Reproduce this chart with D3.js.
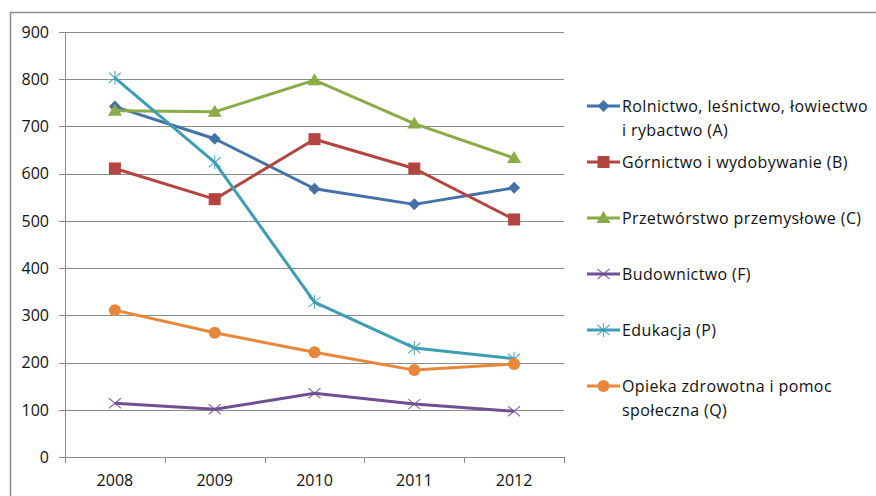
<!DOCTYPE html>
<html><head><meta charset="utf-8">
<script src="https://cdn.jsdelivr.net/npm/d3@7"></script>
<style>body{margin:0;background:#fff}svg text{font-family:"Open Sans",Lato,sans-serif;fill:#111}</style>
</head><body><svg id="c" width="876" height="496"></svg>
<script>
const years = ["2008","2009","2010","2011","2012"];
const yTicks = [0,100,200,300,400,500,600,700,800,900];
const names = ["Rolnictwo, leśnictwo, łowiectwo|i rybactwo (A)","Górnictwo i wydobywanie (B)","Przetwórstwo przemysłowe (C)","Budownictwo (F)","Edukacja (P)","Opieka zdrowotna i pomoc|społeczna (Q)"];
const colors = ["#4472a8","#b34541","#8aac46","#6f4f92","#3c9db3","#e8873a"];
const markers = ["diamond","square","triangle","x","star","circle"];
const valA = [742,674,568,535,570];
const valB = [611,546,673,611,503];
const valC = [733,731,798,706,633];
const valF = [114,101,135,112,97];
const valP = [803,624,328,231,208];
const valQ = [311,263,222,184,197];
const series = [valA,valB,valC,valF,valP,valQ];

const svg = d3.select("#c");
svg.append("line").attr("x1",10).attr("x2",876).attr("y1",12.5).attr("y2",12.5).attr("stroke","#8c8c8c").attr("stroke-width",1.5);
svg.append("line").attr("x1",10.5).attr("x2",10.5).attr("y1",12).attr("y2",496).attr("stroke","#8c8c8c").attr("stroke-width",1.5);

const L=65,R=564,T=32,B=457;
const x = d3.scaleBand().domain(years).range([L,R]);
const y = d3.scaleLinear().domain([0,900]).range([B,T]);

const g = svg.append("g");
g.selectAll("line.grid").data(yTicks).join("line")
 .attr("x1",L-6).attr("x2",R).attr("y1",d=>Math.round(y(d))+0.5).attr("y2",d=>Math.round(y(d))+0.5)
 .attr("stroke","#8c8c8c").attr("stroke-width",1);
g.append("line").attr("x1",L+0.5).attr("x2",L+0.5).attr("y1",T).attr("y2",B+6).attr("stroke","#8c8c8c");
const xt = years.map((d,i)=>L+i*x.bandwidth()).concat([R]);
g.selectAll("line.xt").data(xt).join("line")
 .attr("x1",d=>Math.round(d)+0.5).attr("x2",d=>Math.round(d)+0.5).attr("y1",B).attr("y2",B+6).attr("stroke","#8c8c8c");
g.selectAll("text.yl").data(yTicks).join("text")
 .attr("x",49).attr("y",d=>y(d)).attr("dy","0.36em").attr("text-anchor","end").attr("font-size",16).text(d=>d);
g.selectAll("text.xl").data(years).join("text")
 .attr("x",d=>x(d)+x.bandwidth()/2).attr("y",486).attr("text-anchor","middle").attr("font-size",16).text(d=>d);

function marker(sel,type,color,cx,cy){
  const s = sel.append("g").attr("transform",`translate(${cx},${cy})`);
  if(type==="diamond") s.append("path").attr("d","M0,-6L6,0L0,6L-6,0Z").attr("fill",color);
  else if(type==="square") s.append("rect").attr("x",-6).attr("y",-6).attr("width",12).attr("height",12).attr("fill",color);
  else if(type==="triangle") s.append("path").attr("d","M0,-7L7,5L-7,5Z").attr("fill",color);
  else if(type==="circle") s.append("circle").attr("r",6).attr("fill",color);
  else if(type==="x") s.append("path").attr("d","M-6,-5L6,5M-6,5L6,-5").attr("stroke",color).attr("stroke-width",1.2).attr("opacity",0.8);
  else if(type==="star") s.append("path").attr("d","M-6,-5L6,5M-6,5L6,-5M0,-7L0,7").attr("stroke",color).attr("stroke-width",1.2).attr("opacity",0.8);
}
const line = d3.line().x((d,i)=>x(years[i])+x.bandwidth()/2).y(d=>y(d));
series.forEach((vals,k)=>{
  g.append("path").attr("d",line(vals)).attr("fill","none").attr("stroke",colors[k]).attr("stroke-width",3).attr("stroke-linejoin","round");
  vals.forEach((v,i)=>marker(g,markers[k],colors[k],x(years[i])+x.bandwidth()/2,y(v)));
});

const legY = [106,162,218,274,330,386];
const texts = [];
names.forEach((n,k)=>{
  const lg = svg.append("g");
  lg.append("line").attr("x1",587).attr("x2",620).attr("y1",legY[k]).attr("y2",legY[k]).attr("stroke",colors[k]).attr("stroke-width",3);
  marker(lg,markers[k],colors[k],603.5,legY[k]);
  n.split("|").forEach((t,j)=>{
    texts.push(lg.append("text").attr("x",622).attr("y",legY[k]+j*24).attr("dy","0.36em").attr("font-size",16).text(t));
  });
});
const w0 = texts[0].node().getComputedTextLength();
const n0 = texts[0].text().length;
const ls = (246-w0)/n0;
texts.forEach(t=>t.attr("letter-spacing",ls));
</script></body></html>
